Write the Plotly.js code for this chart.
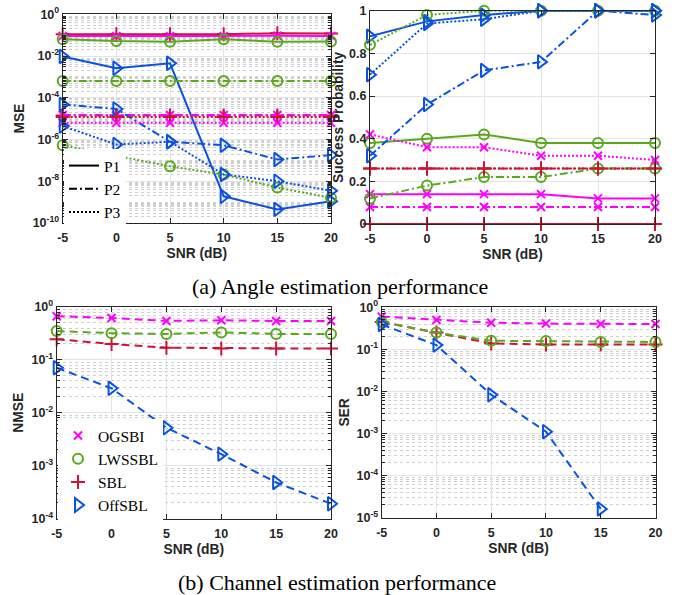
<!DOCTYPE html>
<html><head><meta charset="utf-8">
<script src="https://cdn.plot.ly/plotly-3.0.1.min.js"></script>
<style>body{margin:0;padding:0;background:#fff}#chart{width:679px;height:595px}</style>
</head><body><div id="chart"></div>
<script>
// ---------------- DATA ----------------
const snr = [-5, 0, 5, 10, 15, 20];
const methods = ['OGSBI', 'LWSSBL', 'SBL', 'OffSBL'];
const patterns = ['P1', 'P2', 'P3'];

// (a) MSE of angle estimation
const mse_OGSBI_P1  = [0.092, 0.09, 0.088, 0.09, 0.095, 0.09];
const mse_LWSSBL_P1 = [0.063, 0.052, 0.049, 0.063, 0.049, 0.05];
const mse_SBL_P1    = [0.11, 0.11, 0.11, 0.11, 0.125, 0.12];
const mse_OffSBL_P1 = [0.0095, 0.0026, 0.0045, 1.9e-9, 4.5e-10, 1.1e-9];
const mse_OGSBI_P2  = [1.5e-5, 1.5e-5, 1.5e-5, 1.5e-5, 1.5e-5, 1.5e-5];
const mse_LWSSBL_P2 = [6.3e-4, 6.3e-4, 6.3e-4, 6.3e-4, 6.3e-4, 6.3e-4];
const mse_SBL_P2    = [1.4e-5, 1.4e-5, 1.4e-5, 1.4e-5, 1.4e-5, 1.4e-5];
const mse_OffSBL_P2 = [4.8e-5, 2.9e-5, 7.8e-7, 5.3e-7, 1.1e-7, 1.8e-7];
const mse_OGSBI_P3  = [6.3e-6, 6.3e-6, 6.3e-6, 6.3e-6, 6.3e-6, 6.3e-6];
const mse_LWSSBL_P3 = [5.3e-7, 1.6e-7, 5.2e-8, 2.1e-8, 5e-9, 1.6e-9];
const mse_SBL_P3    = [1.2e-5, 1.2e-5, 1.2e-5, 1.2e-5, 1.2e-5, 1.2e-5];
const mse_OffSBL_P3 = [4.4e-6, 5.8e-7, 7.8e-7, 2.1e-8, 1e-8, 3.5e-9];

// (a) Success probability
const sp_OGSBI_P1  = [0.14, 0.14, 0.14, 0.14, 0.12, 0.12];
const sp_LWSSBL_P1 = [0.38, 0.40, 0.42, 0.38, 0.38, 0.38];
const sp_SBL_P1    = [0, 0, 0, 0, 0, 0];
const sp_OffSBL_P1 = [0.88, 0.95, 0.98, 1, 1, 1];
const sp_OGSBI_P2  = [0.08, 0.08, 0.08, 0.08, 0.08, 0.08];
const sp_LWSSBL_P2 = [0.12, 0.18, 0.22, 0.22, 0.26, 0.26];
const sp_SBL_P2    = [0.26, 0.26, 0.26, 0.26, 0.26, 0.26];
const sp_OffSBL_P2 = [0.32, 0.56, 0.72, 0.76, 1.0, 0.98];
const sp_OGSBI_P3  = [0.42, 0.36, 0.36, 0.32, 0.32, 0.30];
const sp_LWSSBL_P3 = [0.84, 0.98, 1, 1, 1, 1];
const sp_SBL_P3    = [0.26, 0.26, 0.26, 0.26, 0.26, 0.26];
const sp_OffSBL_P3 = [0.70, 0.94, 0.96, 1, 1, 1];

// (b) NMSE of channel estimation
const nmse_OGSBI  = [0.67, 0.62, 0.545, 0.56, 0.545, 0.545];
const nmse_LWSSBL = [0.35, 0.32, 0.31, 0.33, 0.31, 0.31];
const nmse_SBL    = [0.246, 0.2, 0.17, 0.165, 0.165, 0.165];
const nmse_OffSBL = [0.071, 0.029, 0.0052, 0.00165, 0.00048, 0.00019];

// (b) SER
const ser_OGSBI  = [0.6, 0.5, 0.43, 0.41, 0.40, 0.40];
const ser_LWSSBL = [0.45, 0.25, 0.16, 0.157, 0.149, 0.15];
const ser_SBL    = [0.45, 0.25, 0.138, 0.13, 0.13, 0.13];
const ser_OffSBL = [0.39, 0.126, 0.0083, 0.0011, 1.6e-5, null];

// tick labels
const xTicks = [-5, 0, 5, 10, 15, 20];
const mseTickExp = [0, -2, -4, -6, -8, -10];
const nmseTickExp = [0, -1, -2, -3, -4];
const serTickExp = [0, -1, -2, -3, -4, -5];
const spTicks = [0, 0.2, 0.4, 0.6, 0.8, 1];

const captionA = '(a) Angle estimation performance';
const captionB = '(b) Channel estimation performance';

// ---------------- STYLE ----------------
const mseData = {
  P1: {OGSBI: mse_OGSBI_P1, LWSSBL: mse_LWSSBL_P1, SBL: mse_SBL_P1, OffSBL: mse_OffSBL_P1},
  P2: {OGSBI: mse_OGSBI_P2, LWSSBL: mse_LWSSBL_P2, SBL: mse_SBL_P2, OffSBL: mse_OffSBL_P2},
  P3: {OGSBI: mse_OGSBI_P3, LWSSBL: mse_LWSSBL_P3, SBL: mse_SBL_P3, OffSBL: mse_OffSBL_P3}
};
const spData = {
  P1: {OGSBI: sp_OGSBI_P1, LWSSBL: sp_LWSSBL_P1, SBL: sp_SBL_P1, OffSBL: sp_OffSBL_P1},
  P2: {OGSBI: sp_OGSBI_P2, LWSSBL: sp_LWSSBL_P2, SBL: sp_SBL_P2, OffSBL: sp_OffSBL_P2},
  P3: {OGSBI: sp_OGSBI_P3, LWSSBL: sp_LWSSBL_P3, SBL: sp_SBL_P3, OffSBL: sp_OffSBL_P3}
};
const nmseData = {OGSBI: nmse_OGSBI, LWSSBL: nmse_LWSSBL, SBL: nmse_SBL, OffSBL: nmse_OffSBL};
const serData = {OGSBI: ser_OGSBI, LWSSBL: ser_LWSSBL, SBL: ser_SBL, OffSBL: ser_OffSBL};

const colors = {OGSBI: '#ff00ff', LWSSBL: '#5aa81e', SBL: '#cc1436', OffSBL: '#0a52e0'};
const symbols = {OGSBI: 'x-thin-open', LWSSBL: 'circle-open', SBL: 'cross-thin-open', OffSBL: 'triangle-right-open'};
const msize = {OGSBI: 8, LWSSBL: 10, SBL: 10, OffSBL: 12};
const dashes = {P1: 'solid', P2: '8px,3px,2px,3px', P3: '2px,2px'};
const drawOrder = ['SBL', 'OGSBI', 'LWSSBL', 'OffSBL'];

function tr(y, m, dash, xa, ya) {
  return {
    x: snr, y: y, xaxis: xa, yaxis: ya, type: 'scatter', mode: 'lines+markers',
    name: m, showlegend: false, cliponaxis: false,
    line: {color: colors[m], width: 2, dash: dash},
    marker: {symbol: symbols[m], size: msize[m], color: colors[m], line: {color: colors[m], width: 2}}
  };
}

const traces = [];
patterns.forEach(p => drawOrder.forEach(m => traces.push(tr(mseData[p][m], m, dashes[p], 'x', 'y'))));
patterns.forEach(p => drawOrder.forEach(m => traces.push(tr(spData[p][m], m, dashes[p], 'x2', 'y2'))));
drawOrder.forEach(m => traces.push(tr(nmseData[m], m, '8px,5px', 'x3', 'y3')));
drawOrder.forEach(m => traces.push(tr(serData[m], m, '8px,5px', 'x4', 'y4')));

// legend entries: line styles (top-left)
patterns.forEach(p => traces.push({
  x: [null], y: [null], xaxis: 'x', yaxis: 'y', type: 'scatter', mode: 'lines', name: p,
  legend: 'legend', showlegend: true, line: {color: '#000', width: 2, dash: dashes[p]}
}));
// legend entries: methods (bottom-left)
methods.forEach(m => traces.push({
  x: [null], y: [null], xaxis: 'x3', yaxis: 'y3', type: 'scatter', mode: 'markers', name: m,
  legend: 'legend2', showlegend: true,
  marker: {symbol: symbols[m], size: msize[m], color: colors[m], line: {color: colors[m], width: 2}}
}));

const W = 679, H = 595;
const px = v => v / W, py = v => 1 - v / H;
const tickFont = {family: 'Liberation Sans, Arial, sans-serif', size: 12.5, color: '#262626', weight: 'bold'};
const titleFont = {family: 'Liberation Sans, Arial, sans-serif', size: 13.8, color: '#262626', weight: 'bold'};

function minorLog(lo, hi, withOdd) {
  const v = [];
  for (let e = lo; e < hi; e++) {
    for (let k = 2; k <= 9; k++) v.push(k * Math.pow(10, e));
    if (withOdd && e > lo && (e - lo) % 2 === 1) v.push(Math.pow(10, e));
  }
  return v;
}
const common = {
  showline: true, linecolor: '#262626', linewidth: 1, mirror: 'allticks',
  ticks: 'inside', ticklen: 5, tickcolor: '#262626', tickwidth: 1,
  showgrid: true, gridcolor: '#e4e4e4', gridwidth: 1, zeroline: false,
  tickfont: tickFont
};
function xAxis(domain, anchor) {
  return Object.assign({}, common, {
    domain: domain, anchor: anchor, range: [-5, 20], tickmode: 'array', tickvals: xTicks,
    ticktext: xTicks.map(String), ticklabelstandoff: 3,
    title: {text: 'SNR (dB)', font: titleFont, standoff: 4}
  });
}
function yLog(domain, anchor, exps, title, standoff, sparse) {
  const lo = Math.min(...exps), hi = Math.max(...exps);
  return Object.assign({}, common, {
    domain: domain, anchor: anchor, type: 'log', range: [lo, hi],
    tickmode: 'array', tickvals: exps.map(e => Math.pow(10, e)),
    ticktext: exps.map(e => '10<sup>' + (e === 0 ? '0' : e) + '</sup>'),
    minor: {tickmode: 'array', tickvals: minorLog(lo, hi, sparse), showgrid: true, gridcolor: '#cfcfcf',
            griddash: 'dot', gridwidth: 1, ticks: 'inside', ticklen: 3, tickcolor: '#262626'},
    title: {text: title, font: titleFont, standoff: standoff}
  });
}

const layout = {
  width: W, height: H, margin: {l: 0, r: 0, t: 0, b: 0},
  paper_bgcolor: '#fff', plot_bgcolor: '#fff',
  font: {family: 'Liberation Sans, Arial, sans-serif'},
  xaxis:  xAxis([px(62.7), px(331)], 'y'),
  yaxis:  yLog([py(223), py(14.3)], 'x', mseTickExp, 'MSE', 4, true),
  xaxis2: xAxis([px(370), px(655)], 'y2'),
  yaxis2: Object.assign({}, common, {
    domain: [py(224), py(10.7)], anchor: 'x2', range: [0, 1], tickmode: 'array',
    tickvals: spTicks, ticktext: spTicks.map(String),
    title: {text: 'Success Probability', font: titleFont, standoff: 2}
  }),
  xaxis3: xAxis([px(56.7), px(331)], 'y3'),
  yaxis3: yLog([py(518.5), py(307)], 'x3', nmseTickExp, 'NMSE', 4, false),
  xaxis4: xAxis([px(381.7), px(655.5)], 'y4'),
  yaxis4: yLog([py(517.5), py(307.3)], 'x4', serTickExp, 'SER', 3, false),
  legend: {x: px(64), y: py(149), xanchor: 'left', yanchor: 'top', bgcolor: '#fff', borderwidth: 0,
           font: {family: 'Liberation Serif, Times New Roman, serif', size: 15.5, color: '#000'},
           tracegroupgap: 0, traceorder: 'normal'},
  legend2: {x: px(58), y: py(419), xanchor: 'left', yanchor: 'top', bgcolor: '#fff', borderwidth: 0,
           font: {family: 'Liberation Serif, Times New Roman, serif', size: 15.5, color: '#000'},
           tracegroupgap: 0, traceorder: 'normal'},
  annotations: [
    {text: captionA, xref: 'paper', yref: 'paper', x: px(340), y: py(286), xanchor: 'center', yanchor: 'middle',
     showarrow: false, font: {family: 'Liberation Serif, Times New Roman, serif', size: 22, color: '#000'}},
    {text: captionB, xref: 'paper', yref: 'paper', x: px(337), y: py(582), xanchor: 'center', yanchor: 'middle',
     showarrow: false, font: {family: 'Liberation Serif, Times New Roman, serif', size: 22, color: '#000'}}
  ]
};

Plotly.newPlot('chart', traces, layout, {staticPlot: true, displayModeBar: false});
</script>
</body></html>
